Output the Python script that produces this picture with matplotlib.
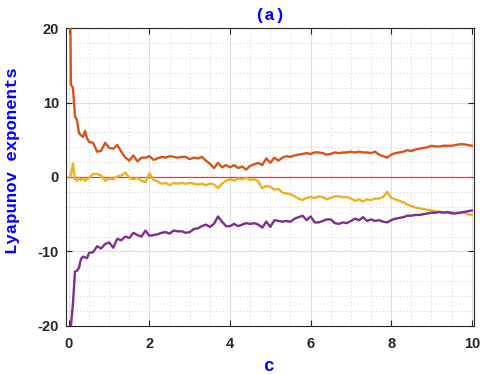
import matplotlib
matplotlib.use("Agg")
import matplotlib.pyplot as plt
from matplotlib.ticker import MultipleLocator

plt.rcParams['axes.unicode_minus'] = False

c = [0.02, 0.05, 0.1, 0.15, 0.2, 0.25, 0.3, 0.35, 0.4, 0.45, 0.5,
     0.6, 0.7, 0.8, 0.9, 1.0, 1.1, 1.2, 1.3, 1.4, 1.5, 1.6, 1.7, 1.8, 1.9,
     2.0, 2.1, 2.2, 2.3, 2.4, 2.5, 2.6, 2.7, 2.8, 2.9,
     3.0, 3.1, 3.2, 3.3, 3.4, 3.5, 3.6, 3.7, 3.8, 3.9,
     4.0, 4.1, 4.2, 4.3, 4.4, 4.5, 4.6, 4.7, 4.8, 4.9,
     5.0, 5.1, 5.2, 5.3, 5.4, 5.5, 5.6, 5.7, 5.8, 5.9,
     6.0, 6.1, 6.2, 6.3, 6.4, 6.5, 6.6, 6.7, 6.8, 6.9,
     7.0, 7.1, 7.2, 7.3, 7.4, 7.5, 7.6, 7.7, 7.8, 7.9,
     8.0, 8.1, 8.2, 8.3, 8.4, 8.5, 8.6, 8.7, 8.8, 8.9,
     9.0, 9.1, 9.2, 9.3, 9.4, 9.5, 9.6, 9.7, 9.8, 9.9, 10.0]

lam1 = [30, 12.4, 12.0, 8.2, 7.6, 5.9, 5.6, 5.4, 6.2, 5.2, 4.7,
        4.6, 3.4, 3.5, 4.6, 3.9, 3.8, 4.3, 3.4, 2.6, 2.2, 2.9, 2.1, 2.6, 2.6,
        2.8, 2.3, 2.5, 2.7, 2.6, 2.8, 2.7, 2.6, 2.7, 2.7,
        2.4, 2.6, 2.5, 2.7, 2.2, 1.8, 1.2, 1.9, 1.3, 1.6,
        1.3, 1.6, 1.2, 1.4, 1.0, 1.5, 1.7, 1.9, 1.6, 2.5,
        1.9, 2.6, 2.2, 2.6, 2.8, 2.7, 2.9, 3.0, 3.1, 3.2,
        3.1, 3.3, 3.3, 3.2, 3.0, 3.1, 3.3, 3.2, 3.3, 3.3,
        3.4, 3.3, 3.4, 3.3, 3.3, 3.2, 3.4, 3.0, 2.8, 2.6,
        3.0, 3.2, 3.3, 3.4, 3.6, 3.5, 3.7, 3.8, 3.9, 4.0,
        4.2, 4.1, 4.1, 4.2, 4.2, 4.2, 4.3, 4.4, 4.4, 4.3, 4.2]

lam2 = [0.0, 0.3, 1.8, -0.3, -0.5, -0.1, -0.4, -0.2, -0.5, -0.3, -0.1,
        0.4, 0.4, 0.2, -0.5, -0.2, -0.3, 0.1, 0.2, 0.6, -0.1, -0.3, -0.1, -0.5, -0.7,
        0.5, -0.4, -0.6, -0.9, -0.8, -1.1, -0.8, -0.9, -0.8, -0.9,
        -0.8, -0.9, -1.0, -0.9, -1.1, -0.9, -1.0, -1.5, -0.9, -0.5,
        -0.3, -0.5, -0.2, -0.3, -0.1, -0.4, -0.3, -0.6, -1.5, -1.2,
        -1.3, -1.7, -1.6, -2.1, -2.2, -2.3, -2.6, -2.9, -3.1, -2.8,
        -2.7, -2.8, -2.6, -2.7, -3.0, -2.8, -2.6, -2.6, -2.7, -2.7,
        -2.9, -3.2, -3.0, -3.3, -3.0, -3.1, -2.9, -2.9, -2.7, -2.0,
        -2.8, -3.0, -3.2, -3.4, -3.7, -3.9, -4.1, -4.2, -4.3, -4.4,
        -4.5, -4.6, -4.7, -4.7, -4.8, -4.7, -4.8, -4.8, -4.8, -5.0, -5.1]

lam3 = [-26, -20, -17, -12.7, -12.6, -12.2, -11.0, -10.7, -10.8, -10.9, -10.2,
        -10.1, -9.3, -9.6, -9.0, -8.8, -9.5, -8.3, -8.5, -8.0, -8.2, -7.5, -7.8, -8.0, -7.2,
        -7.9, -7.8, -7.7, -7.5, -7.4, -7.6, -7.2, -7.3, -7.3, -7.5,
        -7.4, -7.0, -6.9, -6.6, -6.4, -6.7, -6.3, -5.3, -6.0, -6.6,
        -6.6, -6.3, -6.6, -6.4, -6.2, -6.3, -6.2, -6.4, -6.8, -6.0,
        -6.7, -5.8, -5.9, -6.0, -5.9, -6.0, -5.6, -5.4, -5.2, -5.8,
        -5.3, -6.1, -6.1, -5.9, -5.7, -5.7, -6.2, -6.3, -6.1, -6.2,
        -5.9, -5.6, -5.8, -5.4, -5.9, -5.7, -5.9, -5.8, -6.0, -6.1,
        -5.8, -5.6, -5.5, -5.4, -5.2, -5.2, -5.1, -5.1, -5.0, -4.9,
        -4.8, -4.8, -4.7, -4.8, -4.7, -4.9, -4.9, -4.8, -4.7, -4.6, -4.5]

xticks = [0, 2, 4, 6, 8, 10]
yticks = [-20, -10, 0, 10, 20]

fig = plt.figure(figsize=(4.81, 3.75), dpi=100)
ax = fig.add_axes([0.137, 0.131, 0.848, 0.794])

ax.plot(c, lam1, color='#D95319', lw=1.7, zorder=3)
ax.plot(c, lam2, color='#EDB120', lw=1.7, zorder=3)
ax.plot(c, lam3, color='#7E2F8E', lw=1.7, zorder=3)
ax.axhline(0, color='#FF3030', lw=0.9, zorder=2)

ax.set_xlim(-0.075, 10.05)
ax.set_ylim(-20, 20)
ax.set_xticks(xticks)
ax.set_yticks(yticks)
ax.xaxis.set_minor_locator(MultipleLocator(0.5))
ax.yaxis.set_minor_locator(MultipleLocator(2))
ax.grid(True, which='major', color='#dedede', lw=0.8, zorder=0)
ax.grid(True, which='minor', color='#d0d0d0', lw=0.7, ls=(0, (1, 2.5)), zorder=0)
ax.set_axisbelow(True)

ax.tick_params(which='both', direction='in', top=True, right=True, colors='#262626')
ax.tick_params(which='major', length=4, width=0.8, labelsize=10.5)
ax.tick_params(axis='x', which='major', pad=8)
ax.tick_params(axis='y', which='major', pad=5)
ax.tick_params(which='minor', length=0)
for lab in ax.get_xticklabels() + ax.get_yticklabels():
    lab.set_fontfamily('Liberation Sans')
    lab.set_fontweight('bold')
    lab.set_color('#262626')
for sp in ax.spines.values():
    sp.set_color('#262626')
    sp.set_linewidth(0.8)

ax.set_xlabel('c', fontfamily='Liberation Mono', fontweight='bold', color='blue',
              fontsize=13, labelpad=5)
ax.set_ylabel('Lyapunov exponents', fontfamily='Liberation Mono', fontweight='bold',
              color='blue', fontsize=12.5)
ax.yaxis.set_label_coords(-0.112, 0.554)
ax.set_title('(a)', fontfamily='Liberation Mono', fontweight='bold', color='blue', fontsize=12.5)

fig.savefig('out.png', dpi=100)
